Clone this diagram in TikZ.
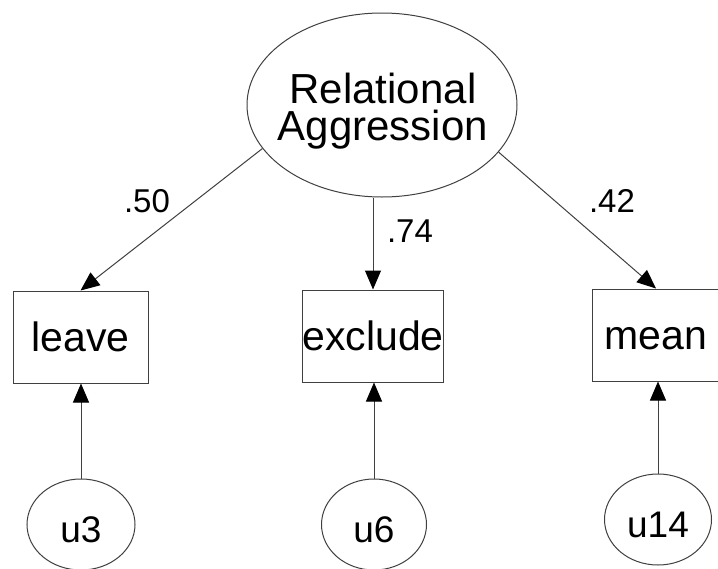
\documentclass[tikz,border=0pt]{standalone}
\usepackage{fontspec}
\setmainfont{Liberation Sans}
\usetikzlibrary{shapes.geometric,arrows.meta}
\begin{document}
\begin{tikzpicture}[x=1pt,y=-1pt,
  lat/.style={ellipse,draw=black!75,line width=1pt,inner sep=0pt},
  obs/.style={rectangle,draw=black!75,line width=1pt,inner sep=0pt,minimum height=92pt,
    text height=34pt,text depth=6pt,font=\fontsize{41}{44}\selectfont},
  err/.style={lat,text height=35pt,text depth=0pt,font=\fontsize{37}{40}\selectfont},
  coef/.style={inner sep=0pt,font=\fontsize{33}{36}\selectfont},
  arr/.style={draw=black!75,line width=1pt,-{Triangle[length=19pt,width=16pt,color=black]}}]
\useasboundingbox (0,0) rectangle (718,568);
\fill[white] (0,0) rectangle (718,568);
\node[lat,minimum width=270pt,minimum height=184pt] (RA) at (382,105) {};
\node[inner sep=0pt,align=center,font=\fontsize{42}{37}\selectfont] (RAt) at (383,111) {Relational\\Aggression};
\node[obs,minimum width=135pt] (leave) at (80.5,337) {leave};
\node[obs,minimum width=132pt] (exclude) at (373,336) {exclude};
\node[obs,minimum width=128pt] (mean) at (656,335) {mean};
\node[err,minimum width=108pt,minimum height=91pt] (u3) at (81,524.5) {u3};
\node[err,minimum width=105pt,minimum height=91pt] (u6) at (374,524.5) {u6};
\node[err,minimum width=107pt,minimum height=91pt] (u14) at (658,519.5) {u14};
\draw[arr] (RA.200) -- (leave.north);
\draw[arr] (exclude.north |- RA.south) -- (exclude.north);
\draw[arr] (RA.338) -- (mean.north);
\draw[arr] (u3.north) -- (u3.north |- leave.south);
\draw[arr] (u6.north) -- (u6.north |- exclude.south);
\draw[arr] (u14.north) -- (u14.north |- mean.south);
\node[coef] (c50) at (147,201) {.50};
\node[coef] (c74) at (410,231) {.74};
\node[coef] (c42) at (612,201) {.42};
\end{tikzpicture}
\end{document}
